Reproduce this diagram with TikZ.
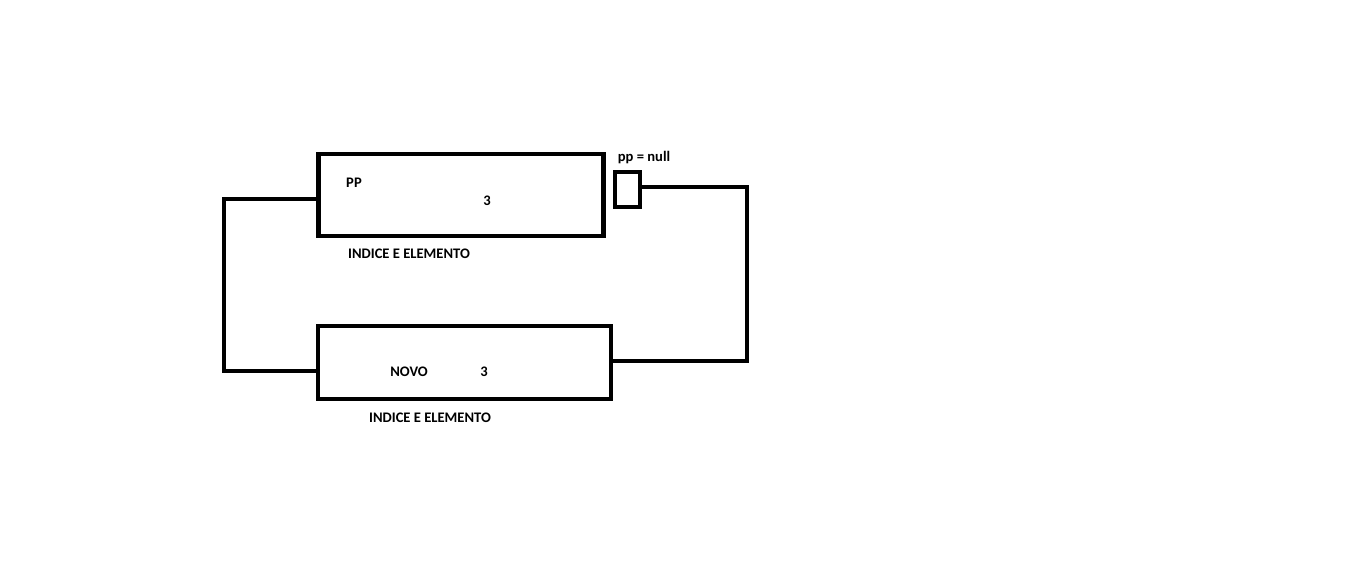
\documentclass[tikz,border=0pt]{standalone}
\usepackage{fontspec}
\setmainfont{Carlito}
\usepackage{tikz}
\usetikzlibrary{positioning,calc}

\begin{document}
\begin{tikzpicture}[
  x=0.02cm, y=-0.02cm,
  font=\fontsize{8.3}{9}\selectfont\bfseries,
  cell/.style={draw, line width=2.6pt, inner sep=0pt},
  link/.style={line width=2.6pt},
  lbl/.style={inner sep=0pt, anchor=base}
]
\useasboundingbox (0,0) rectangle (1358,561);

\node[cell, minimum width=5.7cm, minimum height=1.64cm] (pp) at (461,195) {};
\node[cell, minimum width=5.86cm, minimum height=1.46cm] (novo) at (464.5,362.5) {};
\node[cell, minimum width=0.5cm, minimum height=0.7cm] (ptr) at (627.5,189.5) {};

\node[lbl] (ppname) at (354,187) {PP};
\node[lbl] (ppval) at (487,205) {3};
\node[lbl] (ppcap) at (409,258) {INDICE E ELEMENTO};
\node[lbl] (nullcap) at (644,161) {pp = null};
\node[lbl] (novoname) at (409,376) {NOVO};
\node[lbl] (novoval) at (484,376) {3};
\node[lbl] (novocap) at (430,422) {INDICE E ELEMENTO};

\coordinate (lt) at (224,199);
\coordinate (lb) at (224,371);
\coordinate (rt) at (747,187);
\coordinate (rb) at (747,361);

\draw[link] (pp.west |- lt) -- (lt) -- (lb) -- (novo.west |- lb);
\draw[link] (ptr.east |- rt) -- (rt) -- (rb) -- (novo.east |- rb);
\end{tikzpicture}
\end{document}
